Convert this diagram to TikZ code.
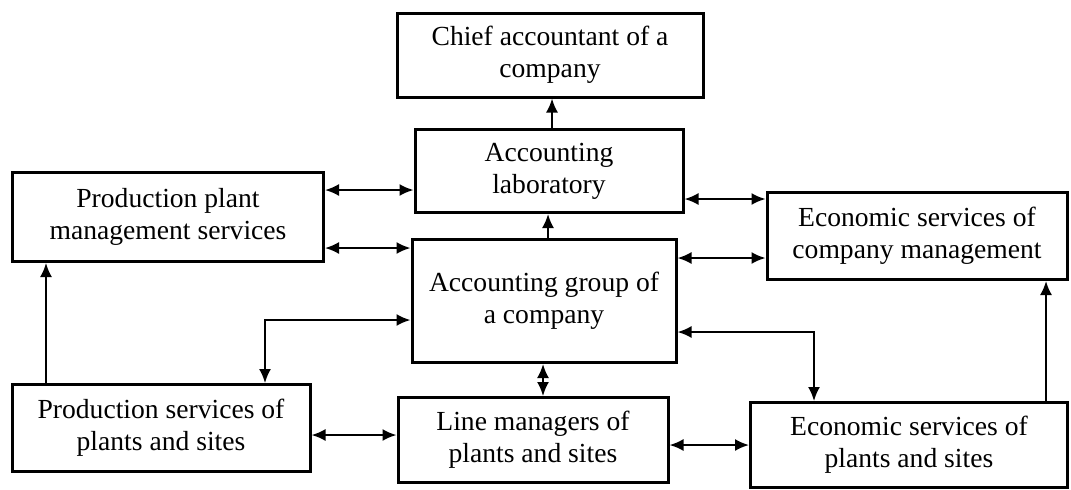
\documentclass[tikz,border=0pt]{standalone}
\usepackage{fontspec}
\setmainfont{Liberation Serif}
\usetikzlibrary{arrows.meta}

\tikzset{
  box/.style={draw, line width=1.5pt, align=center, inner sep=0pt,
    font=\fontsize{13.8}{16}\selectfont},
  link/.style={line width=1pt, {Latex[length=7pt,width=6pt]}-{Latex[length=7pt,width=6pt]}},
  up/.style={line width=1pt, -{Latex[length=7pt,width=6pt]}}
}

\begin{document}
\begin{tikzpicture}[x=0.5pt,y=-0.5pt]
\useasboundingbox (0,0) rectangle (1071,489);
% boxes
\node[box, minimum width=153pt, minimum height=42pt] (chief) at (550,55) {Chief accountant of a\\company};
\node[box, minimum width=134pt, minimum height=41.5pt] (lab) at (549,171) {Accounting\\laboratory};
\node[box, minimum width=132pt, minimum height=61.5pt] (group) at (544,301) {Accounting group of\\a company};
\node[box, minimum width=155.5pt, minimum height=44.5pt] (plant) at (168,217) {Production plant\\management services};
\node[box, minimum width=150pt, minimum height=43.5pt] (ecomp) at (917,236) {Economic services of\\company management};
\node[box, minimum width=149pt, minimum height=43.5pt] (prodsrv) at (161,428) {Production services of\\plants and sites};
\node[box, minimum width=135pt, minimum height=42.5pt] (linemgr) at (533,440) {Line managers of\\plants and sites};
\node[box, minimum width=158.5pt, minimum height=42.5pt] (eplants) at (909,445) {Economic services of\\plants and sites};
% arrows
\draw[up] (lab.north -| 552,0) -- (chief.south -| 552,0);
\draw[up] (group.north -| 548,0) -- (lab.south -| 548,0);
\draw[link] (plant.east |- 0,190) -- (lab.west |- 0,190);
\draw[link] (plant.east |- 0,248) -- (group.west |- 0,248);
\draw[link] (lab.east |- 0,199) -- (ecomp.west |- 0,199);
\draw[link] (group.east |- 0,258) -- (ecomp.west |- 0,258);
\draw[link] (group.west |- 0,320) -| (prodsrv.north -| 265,0);
\draw[link] (group.east |- 0,332) -| (eplants.north -| 814,0);
\draw[up] (prodsrv.north -| 46,0) -- (plant.south -| 46,0);
\draw[link] (group.south -| 543,0) -- (linemgr.north -| 543,0);
\draw[link] (prodsrv.east |- 0,435) -- (linemgr.west |- 0,435);
\draw[link] (linemgr.east |- 0,445) -- (eplants.west |- 0,445);
\draw[up] (eplants.north -| 1046,0) -- (ecomp.south -| 1046,0);
\end{tikzpicture}
\end{document}
